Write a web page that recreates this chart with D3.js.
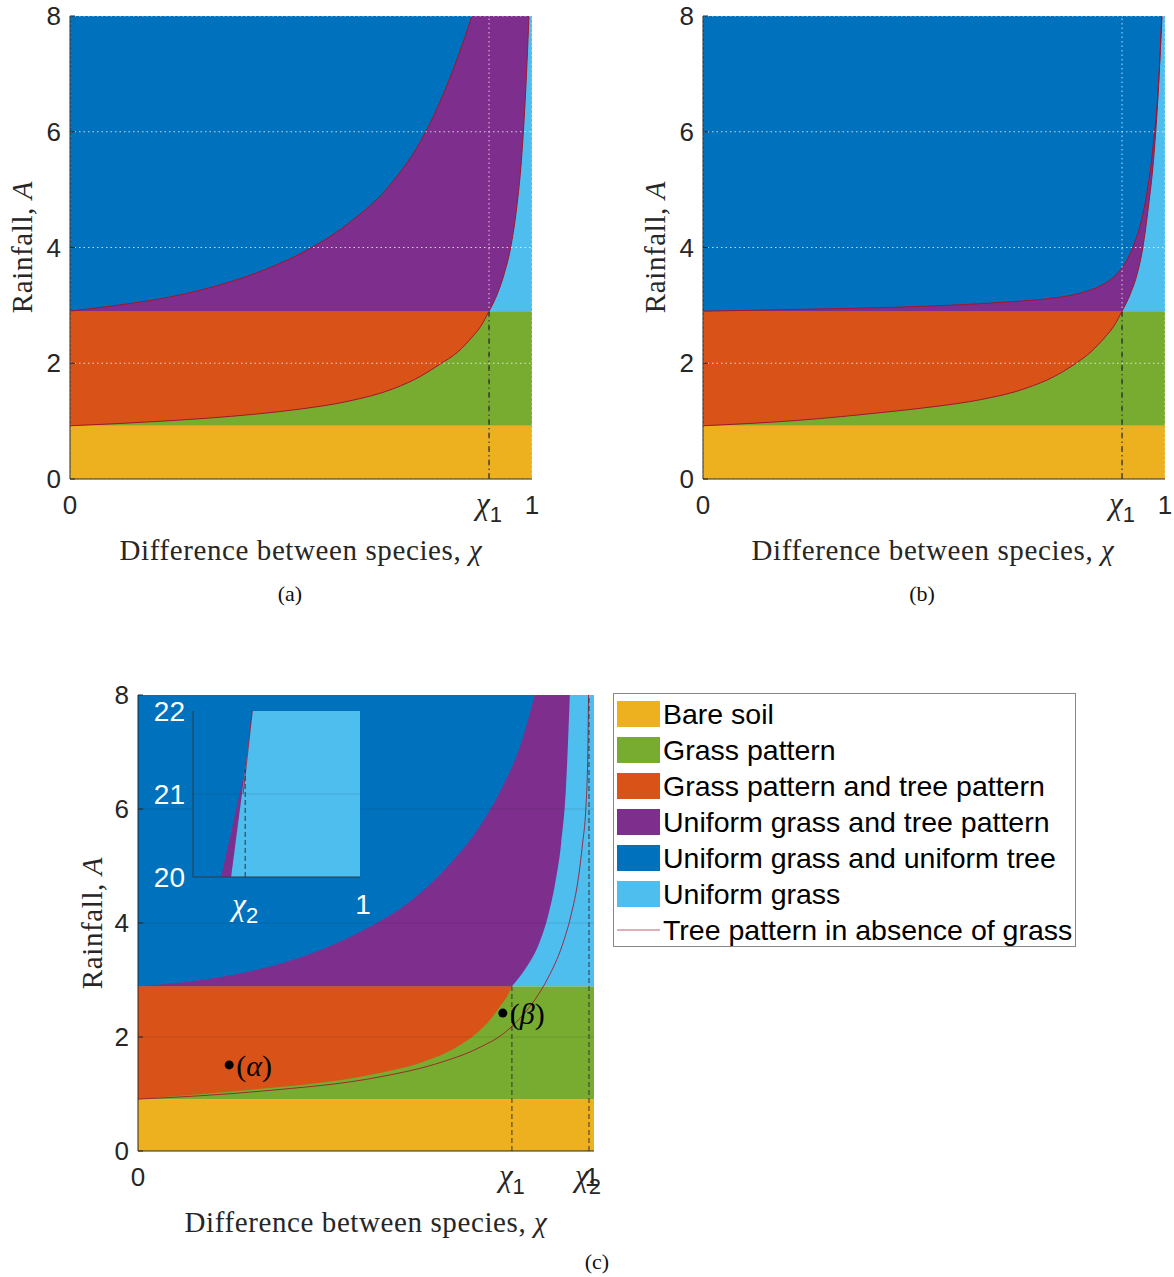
<!DOCTYPE html>
<html>
<head>
<meta charset="utf-8">
<script src="https://cdn.jsdelivr.net/npm/d3@7/dist/d3.min.js"></script>
<style>
body { margin: 0; background: #fff; }
</style>
</head>
<body>
<script>
// region colours
var colBare = '#EDB120', colGrass = '#77AC30', colGT = '#D95319',
    colUGTP = '#7E2F8E', colUGUT = '#0072BD', colUG = '#4DBEEE', colTree = '#A2142F';

var yTicks = [0, 2, 4, 6, 8];

// panel (a)
var aBare = 0.92, aTop = 2.9, aChi1 = 0.907;
var aLower = [[0, 0.92], [0.2, 1.0], [0.4, 1.12], [0.5, 1.21], [0.6, 1.34], [0.7, 1.56],
              [0.76, 1.78], [0.8, 1.98], [0.84, 2.2], [0.87, 2.45], [0.89, 2.65], [0.907, 2.9]];
var aUpper = [[0, 2.9], [0.1, 3.0], [0.2, 3.12], [0.3, 3.3], [0.4, 3.55], [0.5, 3.9], [0.6, 4.4],
              [0.7, 5.15], [0.76, 5.85], [0.8, 6.5], [0.84, 7.3], [0.87, 8.0]];
var aRight = [[0.907, 2.9], [0.925, 3.2], [0.94, 3.55], [0.955, 4.05], [0.967, 4.7],
              [0.977, 5.5], [0.985, 6.5], [0.9935, 8.0]];

// panel (b)
var bBare = 0.92, bTop = 2.9, bChi1 = 0.907;
var bLower = [[0, 0.92], [0.2, 1.01], [0.4, 1.16], [0.5, 1.25], [0.6, 1.37], [0.7, 1.57],
              [0.76, 1.77], [0.8, 1.96], [0.84, 2.2], [0.87, 2.45], [0.89, 2.65], [0.907, 2.9]];
var bUpper = [[0, 2.9], [0.2, 2.93], [0.426, 2.97], [0.643, 3.05], [0.75, 3.12], [0.8, 3.18],
              [0.85, 3.3], [0.88, 3.43], [0.9, 3.58], [0.92, 3.82], [0.935, 4.1], [0.95, 4.5],
              [0.962, 5.0], [0.975, 5.8], [0.985, 6.7], [0.993, 8.0]];
var bRight = [[0.907, 2.9], [0.925, 3.2], [0.94, 3.55], [0.952, 4.0], [0.964, 4.7],
              [0.975, 5.5], [0.984, 6.5], [0.9935, 8.0]];

// panel (c)
var cBare = 0.91, cTop = 2.89, cChi1 = 0.82, cChi2 = 0.989;
var cLower = [[0, 0.91], [0.27, 1.09], [0.414, 1.21], [0.53, 1.37], [0.62, 1.55], [0.68, 1.74],
              [0.72, 1.93], [0.75, 2.12], [0.775, 2.33], [0.795, 2.55], [0.81, 2.72], [0.82, 2.89]];
var cUpper = [[0, 2.89], [0.2, 3.08], [0.35, 3.38], [0.5, 3.9], [0.6, 4.4], [0.68, 5.0],
              [0.75, 5.7], [0.8, 6.4], [0.84, 7.15], [0.87, 8.0]];
var cRight = [[0.82, 2.89], [0.85, 3.2], [0.88, 3.65], [0.9, 4.15], [0.915, 4.7],
              [0.928, 5.4], [0.938, 6.3], [0.947, 8.0]];
var cTree = [[0, 0.91], [0.27, 1.05], [0.53, 1.3], [0.65, 1.52], [0.75, 1.82], [0.8, 2.05],
             [0.84, 2.35], [0.87, 2.65], [0.9, 3.05], [0.93, 3.6], [0.95, 4.15], [0.965, 4.75],
             [0.975, 5.4], [0.982, 6.0], [0.986, 6.8], [0.988, 8.0]];
var cPoints = [{ name: 'α', chi: 0.2, A: 1.51 }, { name: 'β', chi: 0.8, A: 2.42 }];

// inset of (c)
var insetYTicks = [20, 21, 22];
var insetUpper = [[0.9867, 20], [0.989, 21.3], [0.98968, 22]];
var insetRight = [[0.98765, 20], [0.989, 21.3], [0.98968, 22]];
var insetTree = [[0.9888, 21.0], [0.98968, 22]];

var legendNames = ['Bare soil', 'Grass pattern', 'Grass pattern and tree pattern',
  'Uniform grass and tree pattern', 'Uniform grass and uniform tree', 'Uniform grass',
  'Tree pattern in absence of grass'];
var legendColors = [colBare, colGrass, colGT, colUGTP, colUGUT, colUG, colTree];

var sans = "'Liberation Sans', Arial, sans-serif";
var serif = "'Liberation Serif', 'DejaVu Serif', serif";
var axisCol = '#262626';

var svg = d3.select('body').append('svg')
  .attr('width', 1174).attr('height', 1277);

// fills the coloured regions of one phase diagram
function drawRegions(g, x, y, d) {
  var line = d3.line().x(function(p) { return x(p[0]); })
    .y(function(p) { return y(p[1]); }).curve(d3.curveMonotoneX);

  g.append('rect').attr('x', x(0)).attr('y', y(d.bare))
    .attr('width', x(1) - x(0)).attr('height', y(0) - y(d.bare)).attr('fill', colBare);
  g.append('rect').attr('x', x(0)).attr('y', y(d.top))
    .attr('width', x(1) - x(0)).attr('height', y(d.bare) - y(d.top)).attr('fill', colGrass);
  g.append('rect').attr('x', x(0)).attr('y', y(8))
    .attr('width', x(1) - x(0)).attr('height', y(d.top) - y(8)).attr('fill', colUG);

  g.append('path').attr('fill', colGT)
    .attr('d', line(d.lower) + 'L' + x(0) + ',' + y(d.top) + 'Z');
  g.append('path').attr('fill', colUGTP)
    .attr('d', line(d.right) + 'L' + x(0) + ',' + y(8) + 'L' + x(0) + ',' + y(d.top) + 'Z');
  g.append('path').attr('fill', colUGUT)
    .attr('d', line(d.upper) + 'L' + x(0) + ',' + y(8) + 'Z');

  return line;
}

function chiLabel(sel, sub) {
  sel.append('tspan').attr('font-family', serif).attr('font-style', 'italic')
    .attr('font-size', 31).text('χ');
  if (sub) {
    sel.append('tspan').attr('font-family', sans).attr('font-size', 22)
      .attr('dy', 8).text(sub);
  }
}

function drawAxes(g, x, y, xt, opts) {
  g.append('line').attr('x1', x(0)).attr('x2', x(0)).attr('y1', y(0)).attr('y2', y(8))
    .attr('stroke', axisCol).attr('stroke-width', 1);
  g.append('line').attr('x1', x(0)).attr('x2', x(1)).attr('y1', y(0)).attr('y2', y(0))
    .attr('stroke', axisCol).attr('stroke-width', 1);

  yTicks.forEach(function(t) {
    g.append('line').attr('x1', x(0)).attr('x2', x(0) + 5).attr('y1', y(t)).attr('y2', y(t))
      .attr('stroke', axisCol);
    g.append('text').attr('x', x(0) - 9).attr('y', y(t) + 9)
      .attr('text-anchor', 'end').attr('font-family', sans).attr('font-size', 26)
      .attr('fill', axisCol).text(t);
  });

  xt.forEach(function(t) {
    var tx = g.append('text').attr('x', x(t.v) + (t.dx || 0)).attr('y', y(0) + 35)
      .attr('text-anchor', 'middle').attr('fill', axisCol);
    if (t.sub) chiLabel(tx, t.sub);
    else tx.attr('font-family', sans).attr('font-size', 26).text(t.label);
  });

  var xl = g.append('text').attr('x', opts.xlx).attr('y', opts.xly)
    .attr('text-anchor', 'middle').attr('font-family', serif).attr('font-size', 29)
    .attr('letter-spacing', 0.6).attr('fill', axisCol);
  xl.append('tspan').text('Difference between species, ');
  xl.append('tspan').attr('font-style', 'italic').text('χ');

  var yl = g.append('text')
    .attr('transform', 'translate(' + opts.ylx + ',' + opts.yly + ') rotate(-90)')
    .attr('text-anchor', 'middle').attr('font-family', serif).attr('font-size', 29)
    .attr('letter-spacing', 0.6).attr('fill', axisCol);
  yl.append('tspan').text('Rainfall, ');
  yl.append('tspan').attr('font-style', 'italic').text('A');

  g.append('text').attr('x', opts.capx).attr('y', opts.capy)
    .attr('text-anchor', 'middle').attr('font-family', serif).attr('font-size', 22)
    .attr('fill', '#111').text(opts.cap);
}

// panels (a) and (b)
function drawTop(left, d, opts) {
  var x = d3.scaleLinear().domain([0, 1]).range([left, left + 462]);
  var y = d3.scaleLinear().domain([0, 8]).range([479, 16]);
  var g = svg.append('g');
  var line = drawRegions(g, x, y, d);

  // thin red outlines on the curved boundaries
  [d.lower, d.upper, d.right].forEach(function(c) {
    g.append('path').attr('d', line(c)).attr('fill', 'none')
      .attr('stroke', colTree).attr('stroke-width', 1);
  });

  // white dotted grid
  yTicks.forEach(function(t) {
    g.append('line').attr('x1', x(0)).attr('x2', x(1)).attr('y1', y(t)).attr('y2', y(t))
      .attr('stroke', '#fff').attr('stroke-opacity', 0.75).attr('stroke-dasharray', '1.5,3');
  });
  [0, d.chi1, 1].forEach(function(t) {
    g.append('line').attr('x1', x(t)).attr('x2', x(t)).attr('y1', y(0)).attr('y2', y(8))
      .attr('stroke', '#fff').attr('stroke-opacity', 0.75).attr('stroke-dasharray', '1.5,3');
  });

  g.append('line').attr('x1', x(d.chi1)).attr('x2', x(d.chi1))
    .attr('y1', y(0)).attr('y2', y(d.top))
    .attr('stroke', '#111').attr('stroke-width', 1.1).attr('stroke-dasharray', '6,3,1.5,3');

  drawAxes(g, x, y, [{ v: 0, label: '0' }, { v: d.chi1, sub: '1', dx: 0 }, { v: 1, label: '1' }], opts);
}

drawTop(70, { bare: aBare, top: aTop, chi1: aChi1, lower: aLower, upper: aUpper, right: aRight },
  { xlx: 301, xly: 560, ylx: 32, yly: 247, capx: 290, capy: 601, cap: '(a)' });
drawTop(703, { bare: bBare, top: bTop, chi1: bChi1, lower: bLower, upper: bUpper, right: bRight },
  { xlx: 933, xly: 560, ylx: 665, yly: 247, capx: 922, capy: 601, cap: '(b)' });

// panel (c)
(function() {
  var x = d3.scaleLinear().domain([0, 1]).range([138, 594]);
  var y = d3.scaleLinear().domain([0, 8]).range([1151, 695]);
  var g = svg.append('g');
  var line = drawRegions(g, x, y, { bare: cBare, top: cTop, lower: cLower, upper: cUpper, right: cRight });

  [2, 4, 6].forEach(function(t) {
    g.append('line').attr('x1', x(0)).attr('x2', x(1)).attr('y1', y(t)).attr('y2', y(t))
      .attr('stroke', '#000').attr('stroke-opacity', 0.1);
  });

  g.append('path').attr('d', line(cTree)).attr('fill', 'none')
    .attr('stroke', colTree).attr('stroke-opacity', 0.85).attr('stroke-width', 1);

  g.append('line').attr('x1', x(cChi1)).attr('x2', x(cChi1)).attr('y1', y(0)).attr('y2', y(cTop))
    .attr('stroke', '#333').attr('stroke-width', 1).attr('stroke-dasharray', '5,3');
  g.append('line').attr('x1', x(cChi2)).attr('x2', x(cChi2)).attr('y1', y(0)).attr('y2', y(8))
    .attr('stroke', '#333').attr('stroke-width', 1).attr('stroke-dasharray', '5,3');

  cPoints.forEach(function(p) {
    g.append('circle').attr('cx', x(p.chi)).attr('cy', y(p.A)).attr('r', 4.5).attr('fill', '#000');
    var t = g.append('text').attr('x', x(p.chi) + 7).attr('y', y(p.A) + 11)
      .attr('font-family', serif).attr('font-size', 30).attr('fill', '#000');
    t.append('tspan').text('(');
    t.append('tspan').attr('font-style', 'italic').text(p.name);
    t.append('tspan').text(')');
  });

  drawAxes(g, x, y, [{ v: 0, label: '0' }, { v: cChi1, sub: '1' }, { v: 1, label: '1', dx: -2 },
    { v: cChi2, sub: '2', dx: -1 }],
    { xlx: 366, xly: 1232, ylx: 102, yly: 923, capx: 597, capy: 1269, cap: '(c)' });

  // inset
  var ix = d3.scaleLinear().domain([0.984, 1]).range([193, 360]);
  var iy = d3.scaleLinear().domain([20, 22]).range([877, 711]);
  var ig = svg.append('g');
  var iline = d3.line().x(function(p) { return ix(p[0]); }).y(function(p) { return iy(p[1]); });
  ig.append('rect').attr('x', ix(0.984)).attr('y', iy(22))
    .attr('width', ix(1) - ix(0.984)).attr('height', iy(20) - iy(22)).attr('fill', colUG);
  ig.append('path').attr('fill', colUGTP)
    .attr('d', iline(insetRight) + 'L' + ix(0.984) + ',' + iy(22) + 'L' + ix(0.984) + ',' + iy(20) + 'Z');
  ig.append('path').attr('fill', colUGUT)
    .attr('d', iline(insetUpper) + 'L' + ix(0.984) + ',' + iy(22) + 'L' + ix(0.984) + ',' + iy(20) + 'Z');
  ig.append('line').attr('x1', ix(0.984)).attr('x2', ix(1)).attr('y1', iy(21)).attr('y2', iy(21))
    .attr('stroke', '#000').attr('stroke-opacity', 0.1);
  ig.append('path').attr('d', iline(insetTree)).attr('fill', 'none')
    .attr('stroke', colTree).attr('stroke-opacity', 0.8).attr('stroke-width', 1);
  ig.append('line').attr('x1', ix(cChi2)).attr('x2', ix(cChi2)).attr('y1', iy(20)).attr('y2', iy(21.3))
    .attr('stroke', '#333').attr('stroke-width', 1).attr('stroke-dasharray', '5,3');
  ig.append('line').attr('x1', ix(0.984)).attr('x2', ix(0.984)).attr('y1', iy(20)).attr('y2', iy(22))
    .attr('stroke', '#2a3a4a');
  ig.append('line').attr('x1', ix(0.984)).attr('x2', ix(1)).attr('y1', iy(20)).attr('y2', iy(20))
    .attr('stroke', '#2a3a4a');
  insetYTicks.forEach(function(t) {
    ig.append('text').attr('x', ix(0.984) - 8).attr('y', iy(t) + 10).attr('text-anchor', 'end')
      .attr('font-family', sans).attr('font-size', 28).attr('fill', '#fff').text(t);
  });
  var t2 = ig.append('text').attr('x', ix(cChi2)).attr('y', iy(20) + 38)
    .attr('text-anchor', 'middle').attr('fill', '#fff');
  chiLabel(t2, '2');
  ig.append('text').attr('x', ix(1) + 3).attr('y', iy(20) + 37).attr('text-anchor', 'middle')
    .attr('font-family', sans).attr('font-size', 28).attr('fill', '#fff').text('1');
})();

// legend
var lg = svg.append('g');
lg.append('rect').attr('x', 613.5).attr('y', 693.5).attr('width', 462).attr('height', 253)
  .attr('fill', '#fff').attr('stroke', '#888');
legendNames.forEach(function(n, i) {
  var cy = 714 + i * 36;
  if (i < 6) {
    lg.append('rect').attr('x', 617).attr('y', cy - 13).attr('width', 43).attr('height', 26)
      .attr('fill', legendColors[i]);
  } else {
    lg.append('line').attr('x1', 617).attr('x2', 660).attr('y1', cy).attr('y2', cy)
      .attr('stroke', colTree).attr('stroke-opacity', 0.45).attr('stroke-width', 1.5);
  }
  lg.append('text').attr('x', 663).attr('y', cy + 10).attr('font-family', sans)
    .attr('font-size', 28.5).attr('fill', '#000').text(n);
});
</script>
</body>
</html>
